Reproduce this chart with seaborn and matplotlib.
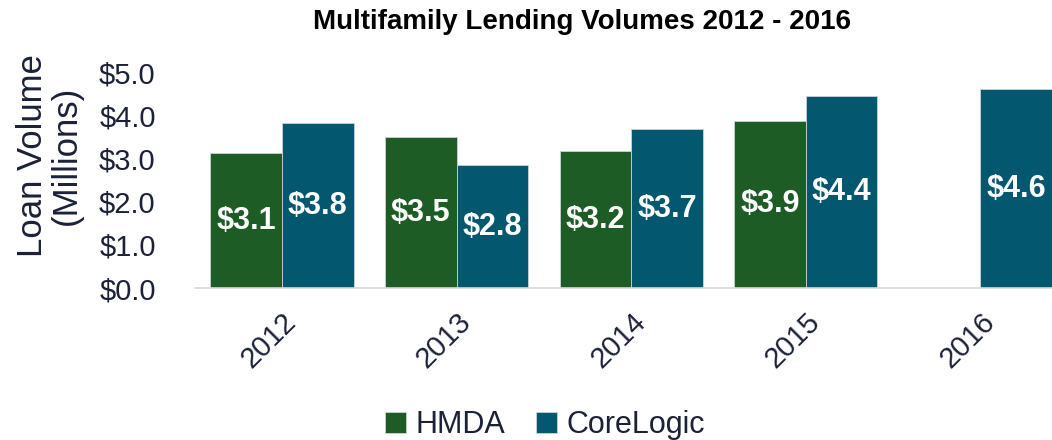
import numpy as np
import pandas as pd
import seaborn as sns
import matplotlib.pyplot as plt

years = ['2012', '2013', '2014', '2015', '2016']
hmda = [3.13, 3.49, 3.17, 3.88, np.nan]
corelogic = [3.82, 2.84, 3.68, 4.44, 4.61]
hmda_labels = ['$3.1', '$3.5', '$3.2', '$3.9', '']
corelogic_labels = ['$3.8', '$2.8', '$3.7', '$4.4', '$4.6']

GREEN = '#1e5c25'
TEAL = '#03586f'
NAVY = '#1b2238'

df = pd.concat([
    pd.DataFrame({'year': years, 'volume': hmda, 'source': 'HMDA'}),
    pd.DataFrame({'year': years, 'volume': corelogic, 'source': 'CoreLogic'}),
], ignore_index=True)

sns.set_style('white')
plt.rcParams['font.family'] = ['Liberation Sans', 'DejaVu Sans']

fig = plt.figure(figsize=(10.52, 4.4), dpi=100)
ax = fig.add_axes([0.185, 0.345, 0.815, 0.491])

sns.barplot(data=df, x='year', y='volume', hue='source', order=years,
            hue_order=['HMDA', 'CoreLogic'], palette=[GREEN, TEAL],
            saturation=1, width=0.82, gap=0, errorbar=None,
            edgecolor='#c8d4d4', linewidth=0.6, ax=ax)

for cont, labs in zip(ax.containers, [hmda_labels, corelogic_labels]):
    ax.bar_label(cont, labels=labs[:len(cont)], label_type='center',
                 color='white', fontsize=22, fontweight='bold')

ax.set_ylim(0, 5)
ax.set_xlim(-0.5, 4.41)
ax.set_yticks(np.arange(0, 5.1, 1.0))
ax.set_yticklabels(['${:.1f}'.format(v) for v in np.arange(0, 5.1, 1.0)])
ax.tick_params(axis='y', labelsize=21, labelcolor=NAVY, length=0, pad=28)
ax.tick_params(axis='x', labelsize=21, labelcolor=NAVY, length=0, pad=14)
plt.setp(ax.get_xticklabels(), rotation=45, ha='right', rotation_mode='anchor')

for s in ['top', 'right', 'left']:
    ax.spines[s].set_visible(False)
ax.spines['bottom'].set_color('#d9d9d9')
ax.spines['bottom'].set_linewidth(1.2)

ax.set_xlabel('')
ax.set_ylabel('Loan Volume\n(Millions)', fontsize=25, color=NAVY, linespacing=1.05)
ax.yaxis.set_label_coords(-0.13, 0.616)

ax.legend(loc='center', bbox_to_anchor=(0.518, 0.034), bbox_transform=fig.transFigure,
          ncol=2, frameon=False, fontsize=22, handlelength=0.7, handleheight=0.7,
          handletextpad=0.3, columnspacing=1.0, labelcolor=NAVY)

fig.text(0.553, 0.95, 'Multifamily Lending Volumes 2012 - 2016', ha='center', va='center',
         fontsize=20, fontweight='bold', color='black')

fig.savefig('out.png', dpi=100)
